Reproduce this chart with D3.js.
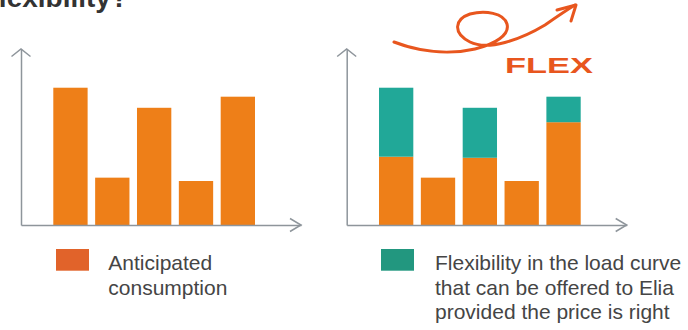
<!DOCTYPE html>
<html>
<head>
<meta charset="utf-8">
<script src="https://cdn.jsdelivr.net/npm/d3@7/dist/d3.min.js"></script>
<style>
  html, body { margin: 0; padding: 0; background: #fff; overflow: hidden; }
  svg { display: block; }
  text { font-family: "Liberation Sans", Arial, sans-serif; }
</style>
</head>
<body>
<svg id="chart" width="688" height="330"></svg>
<script>
// Five consecutive periods of the load curve (unlabelled on the chart)
const periods = ["P1", "P2", "P3", "P4", "P5"];

// Left panel: anticipated consumption per period
const anticipated = [78.0, 26.9, 66.6, 25.0, 72.9];

// Right panel: firm consumption plus the flexible share on top
const firmPart = [38.8, 26.9, 38.2, 25.0, 58.4];
const flexPart = [39.2, 0, 28.4, 0, 14.5];

// Legend texts
const legendLeft = ["Anticipated", "consumption"];
const legendRight = ["Flexibility in the load curve", "that can be offered to Elia", "provided the price is right"];

const COLORS = {
  bar: "#EE7F18",
  flex: "#21A898",
  swatchOrange: "#E1632A",
  swatchTeal: "#22977F",
  axis: "#8E959B",
  text: "#454545",
  logo: "#E8561E",
  title: "#333333"
};

const svg = d3.select("#chart");

// Partially visible heading at the very top
svg.append("text")
  .attr("x", 128).attr("y", 7)
  .attr("text-anchor", "end")
  .attr("font-size", 28)
  .attr("font-weight", "bold")
  .attr("fill", COLORS.title)
  .text("flexibility?");

const baseY = 225;
const topY = 49;
const y = d3.scaleLinear().domain([0, 100]).range([baseY, baseY - 176]);

function drawPanel(ox, stacks) {
  const g = svg.append("g");

  const x = d3.scaleBand()
    .domain(periods)
    .range([ox + 32.3, ox + 234])
    .paddingInner(0.18)
    .paddingOuter(0);

  // Bars (one or more stacked layers)
  const layers = d3.stack().keys(stacks.map((s, i) => i))(
    periods.map((p, j) => {
      const row = { period: p };
      stacks.forEach((s, i) => { row[i] = s.values[j]; });
      return row;
    })
  );

  layers.forEach((layer, i) => {
    g.append("g")
      .selectAll("rect")
      .data(layer.filter(d => d[1] - d[0] > 0))
      .join("rect")
      .attr("x", d => x(d.data.period))
      .attr("width", x.bandwidth())
      .attr("y", d => y(d[1]))
      .attr("height", d => y(d[0]) - y(d[1]))
      .attr("fill", stacks[i].color);
  });

  // Axes without ticks, ending in open arrow heads
  const xAxisScale = d3.scaleLinear().range([ox, ox + 280]);
  const yAxisScale = d3.scaleLinear().range([baseY, topY]);

  g.append("g")
    .attr("transform", `translate(0,${baseY})`)
    .call(d3.axisBottom(xAxisScale).tickValues([]).tickSizeOuter(0))
    .call(a => a.select(".domain").attr("stroke", COLORS.axis).attr("stroke-width", 1.5));

  g.append("g")
    .attr("transform", `translate(${ox},0)`)
    .call(d3.axisLeft(yAxisScale).tickValues([]).tickSizeOuter(0))
    .call(a => a.select(".domain").attr("stroke", COLORS.axis).attr("stroke-width", 1.5));

  const xEnd = xAxisScale.range()[1];
  const yEnd = yAxisScale.range()[1];
  const arrow = d3.line();
  g.append("path")
    .attr("d", arrow([[xEnd - 11, baseY - 6.5], [xEnd, baseY], [xEnd - 11, baseY + 6.5]]))
    .attr("fill", "none").attr("stroke", COLORS.axis).attr("stroke-width", 1.5);
  g.append("path")
    .attr("d", arrow([[ox - 9.5, yEnd + 7.5], [ox, yEnd], [ox + 9.5, yEnd + 7.5]]))
    .attr("fill", "none").attr("stroke", COLORS.axis).attr("stroke-width", 1.5);
}

drawPanel(21, [{ values: anticipated, color: COLORS.bar }]);
drawPanel(346.7, [
  { values: firmPart, color: COLORS.bar },
  { values: flexPart, color: COLORS.flex }
]);

// FLEX logo: looping arrow and wordmark
const logo = svg.append("g");
logo.append("path")
  .attr("d", "M394,42 C415,50 445,56 475,49 C495,44 510,35 507,24 C504,13 485,10 470,14 C455,19 452,33 470,42 C488,51 520,40 545,25 C555,18 565,11 575,5")
  .attr("fill", "none")
  .attr("stroke", COLORS.logo)
  .attr("stroke-width", 3)
  .attr("stroke-linecap", "round");
logo.append("path")
  .attr("d", "M557,10 L576,5 L571,21")
  .attr("fill", "none")
  .attr("stroke", COLORS.logo)
  .attr("stroke-width", 3)
  .attr("stroke-linecap", "round")
  .attr("stroke-linejoin", "round");
logo.append("text")
  .attr("x", 505).attr("y", 73)
  .attr("font-size", 22)
  .attr("font-weight", "bold")
  .attr("fill", COLORS.logo)
  .attr("textLength", 88)
  .attr("lengthAdjust", "spacingAndGlyphs")
  .text("FLEX");

// Legends
function drawLegend(sx, tx, color, lines) {
  const g = svg.append("g");
  g.append("rect")
    .attr("x", sx).attr("y", 249)
    .attr("width", 33).attr("height", 21.7)
    .attr("fill", color);
  g.append("text")
    .attr("x", tx).attr("y", 270)
    .attr("font-size", 21)
    .attr("fill", COLORS.text)
    .selectAll("tspan")
    .data(lines)
    .join("tspan")
    .attr("x", tx)
    .attr("dy", (d, i) => i === 0 ? 0 : 24.5)
    .text(d => d);
}

drawLegend(56, 108.3, COLORS.swatchOrange, legendLeft);
drawLegend(381, 435, COLORS.swatchTeal, legendRight);
</script>
</body>
</html>
